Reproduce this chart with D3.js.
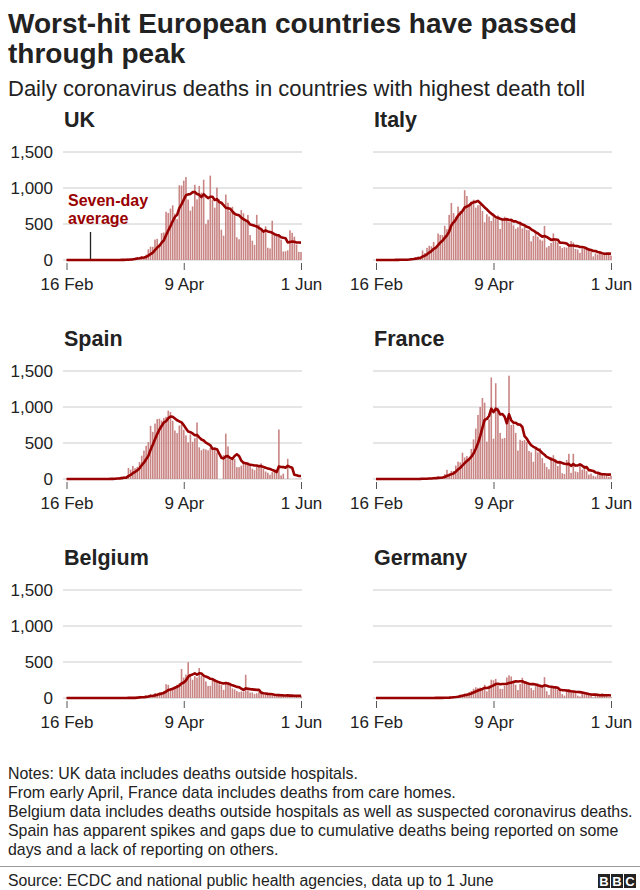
<!DOCTYPE html>
<html><head><meta charset="utf-8">
<script src="https://cdn.jsdelivr.net/npm/d3@7"></script>
<style>
html,body{margin:0;padding:0;background:#fff;}
svg{display:block;font-family:"Liberation Sans",Arial,Helvetica,sans-serif;}
</style></head>
<body><svg id="chart" width="640" height="890"></svg>
<script>
// ---- DATA (daily deaths, 16 Feb 2020 .. 1 Jun 2020) ----
const startDay = "2020-02-16";
const endDay = "2020-06-01";
const tickDays = ["2020-02-16", "2020-04-09", "2020-06-01"];
const tickLabels = ["16 Feb", "9 Apr", "1 Jun"];
const yTicks = [0, 500, 1000, 1500];
const countries = ["UK", "Italy", "Spain", "France", "Belgium", "Germany"];

const ukDeaths = [
  0,0,0,0,0,0,0,0,0,0,0,0,0,0,
  0,0,0,0,0,1,0,1,2,1,2,2,1,10,14,20,16,34,43,36,56,35,74,149,186,183,284,294,214,374,382,
  670,652,714,760,644,568,1038,1034,1103,1152,839,686,744,1044,842,1029,935,1115,498,559,1172,837,727,1005,843,420,338,909,795,674,
  739,621,315,288,693,649,539,626,346,268,210,627,494,428,384,468,170,160,545,363,338,351,282,118,121,134,412,377,324,215,113,
  111];
const italyDeaths = [
  0,0,0,0,0,1,1,1,4,3,2,5,4,8,
  5,18,27,28,41,49,36,133,97,168,196,189,250,175,368,349,345,475,427,627,793,651,601,743,683,662,969,889,756,812,837,
  727,760,766,681,525,636,604,542,610,570,619,431,566,602,578,525,575,482,433,454,534,437,464,420,415,260,333,382,323,285,
  269,474,174,195,236,369,274,243,194,165,179,172,195,262,242,153,145,99,162,161,156,130,119,50,92,78,117,70,87,111,75,
  60];
const spainDeaths = [
  0,0,0,0,0,0,0,0,0,0,0,0,0,0,
  0,0,1,1,1,3,2,5,11,18,19,30,36,16,152,130,182,150,169,235,324,394,462,514,738,655,769,832,838,812,849,
  864,950,932,809,674,637,743,757,683,605,510,619,517,567,785,440,400,420,410,399,430,435,440,367,0,0,331,630,453,268,
  281,276,164,164,185,244,213,229,179,143,123,176,184,217,138,104,87,59,95,110,80,688,50,74,0,280,1,0,2,4,2,
  5];
const franceDeaths = [
  0,0,0,0,0,0,0,0,0,0,0,0,0,0,
  0,1,1,0,2,3,2,9,11,3,15,13,18,12,36,21,27,69,128,78,112,112,186,240,231,365,299,319,292,418,550,
  700,890,1000,1125,1060,520,830,1410,560,1330,990,640,560,570,760,1435,750,760,640,395,545,530,540,515,390,370,240,440,370,430,
  290,220,165,135,305,330,280,180,245,80,70,265,350,85,350,105,95,180,130,185,110,60,75,45,35,90,98,66,52,57,31,
  45];
const belgiumDeaths = [
  0,0,0,0,0,0,0,0,0,0,0,0,0,0,
  0,0,0,0,0,0,0,0,0,0,3,0,1,1,4,1,4,5,16,30,8,13,34,34,56,42,69,64,78,82,98,
  192,183,132,140,164,185,205,403,283,325,496,327,254,303,283,417,306,290,230,168,170,266,264,230,190,180,113,216,214,185,
  134,120,98,82,90,87,323,106,76,77,56,66,82,60,51,46,42,42,35,42,28,42,37,25,34,43,24,22,39,24,27,
  32];
const germanyDeaths = [
  0,0,0,0,0,0,0,0,0,0,0,0,0,0,
  0,0,0,0,0,0,0,0,2,0,1,1,2,2,1,4,4,4,8,11,17,27,27,32,49,52,64,62,84,97,128,
  149,140,145,141,184,92,173,254,246,266,171,129,126,170,285,315,299,242,184,110,194,281,215,227,179,140,110,163,202,173,
  156,290,94,43,139,165,147,118,104,54,33,116,123,101,101,77,33,21,72,83,57,42,39,10,31,45,47,62,39,33,11,
  10];

const seriesByCountry = [ukDeaths, italyDeaths, spainDeaths, franceDeaths, belgiumDeaths, germanyDeaths];

const notes = [
  "Notes: UK data includes deaths outside hospitals.",
  "From early April, France data includes deaths from care homes.",
  "Belgium data includes deaths outside hospitals as well as suspected coronavirus deaths.",
  "Spain has apparent spikes and gaps due to cumulative deaths being reported on some",
  "days and a lack of reporting on others."
];

// ---- LAYOUT ----
const svg = d3.select("#chart");
const FONT = '"Liberation Sans",Arial,Helvetica,sans-serif';
const TXT = "#222222";
const BAR = "#c98484";
const LINE = "#990000";

svg.append("text").attr("x", 8).attr("y", 33).attr("font-size", 28).attr("font-weight", "bold")
  .attr("fill", TXT).text("Worst-hit European countries have passed");
svg.append("text").attr("x", 8).attr("y", 63).attr("font-size", 28).attr("font-weight", "bold")
  .attr("fill", TXT).text("through peak");
svg.append("text").attr("x", 8).attr("y", 96).attr("font-size", 22)
  .attr("fill", TXT).text("Daily coronavirus deaths in countries with highest death toll");

const parse = d3.utcParse("%Y-%m-%d");
const start = parse(startDay), end = parse(endDay);
const cols = [{x0: 66.5, x1: 301, g0: 63, g1: 302}, {x0: 376, x1: 611, g0: 373, g1: 612}];
const rowBase = [260, 479, 698];

countries.forEach((name, i) => {
  const col = cols[i % 2], base = rowBase[Math.floor(i / 2)];
  const values = seriesByCountry[i];
  const data = values.map((v, k) => ({date: d3.utcDay.offset(start, k), v}));
  data.forEach((d, k) => {
    const win = values.slice(Math.max(0, k - 6), k + 1);
    d.avg = d3.mean(win);
  });
  const x = d3.scaleUtc().domain([start, end]).range([col.x0, col.x1]);
  const y = d3.scaleLinear().domain([0, 1500]).range([base, base - 108]);
  const g = svg.append("g");

  g.append("text").attr("x", col.g0 + 1).attr("y", base - 133).attr("font-size", 21.5)
    .attr("font-weight", "bold").attr("fill", TXT).text(name);

  g.selectAll("line.grid").data(yTicks).join("line").attr("class", "grid")
    .attr("x1", col.g0).attr("x2", col.g1).attr("y1", d => y(d)).attr("y2", d => y(d))
    .attr("stroke", "#cccccc").attr("stroke-width", 1);

  if (i % 2 === 0) {
    const ya = g.append("g").attr("transform", `translate(${col.g0},0)`)
      .call(d3.axisLeft(y).tickValues(yTicks).tickFormat(d3.format(",")).tickSize(0).tickPadding(10));
    ya.select(".domain").remove();
    ya.selectAll("text").attr("font-size", 17).attr("font-family", FONT).attr("fill", TXT);
  }

  const bw = 1.6;
  g.selectAll("rect").data(data.filter(d => d.v > 0)).join("rect")
    .attr("x", d => x(d.date) - bw / 2).attr("width", bw)
    .attr("y", d => y(d.v)).attr("height", d => base - y(d.v))
    .attr("fill", BAR);

  g.append("path").datum(data)
    .attr("d", d3.line().x(d => x(d.date)).y(d => y(d.avg)))
    .attr("fill", "none").attr("stroke", LINE).attr("stroke-width", 2.6)
    .attr("stroke-linejoin", "round");

  const xa = g.append("g").attr("transform", `translate(0,${base + 3})`)
    .call(d3.axisBottom(x).tickValues(tickDays.map(parse)).tickFormat((d, k) => tickLabels[k])
      .tickSize(7).tickPadding(8));
  xa.select(".domain").remove();
  xa.selectAll("line").attr("stroke", "#555");
  xa.selectAll("text").attr("font-size", 17).attr("font-family", FONT).attr("fill", TXT);

  if (name === "UK") {
    g.append("text").attr("x", 68).attr("y", 206).attr("font-size", 16).attr("font-weight", "bold")
      .attr("fill", LINE).text("Seven-day");
    g.append("text").attr("x", 68).attr("y", 224).attr("font-size", 16).attr("font-weight", "bold")
      .attr("fill", LINE).text("average");
    g.append("line").attr("x1", 90.5).attr("x2", 90.5).attr("y1", 232).attr("y2", base - 1)
      .attr("stroke", "#222").attr("stroke-width", 1.3);
  }
});

notes.forEach((t, k) => {
  svg.append("text").attr("x", 8).attr("y", 779 + k * 19).attr("font-size", 15.9)
    .attr("fill", TXT).text(t);
});
svg.append("line").attr("x1", 0).attr("x2", 640).attr("y1", 866.5).attr("y2", 866.5)
  .attr("stroke", "#999").attr("stroke-width", 1);
svg.append("text").attr("x", 8).attr("y", 886).attr("font-size", 15.8)
  .attr("fill", TXT).text("Source: ECDC and national public health agencies, data up to 1 June");

const logo = svg.append("g").attr("transform", "translate(598,874)");
["B", "B", "C"].forEach((c, k) => {
  logo.append("rect").attr("x", k * 13).attr("y", 0).attr("width", 12).attr("height", 14).attr("fill", "#222");
  logo.append("text").attr("x", k * 13 + 6).attr("y", 12).attr("text-anchor", "middle")
    .attr("font-size", 13).attr("font-weight", "bold").attr("fill", "#fff").text(c);
});
</script></body></html>
